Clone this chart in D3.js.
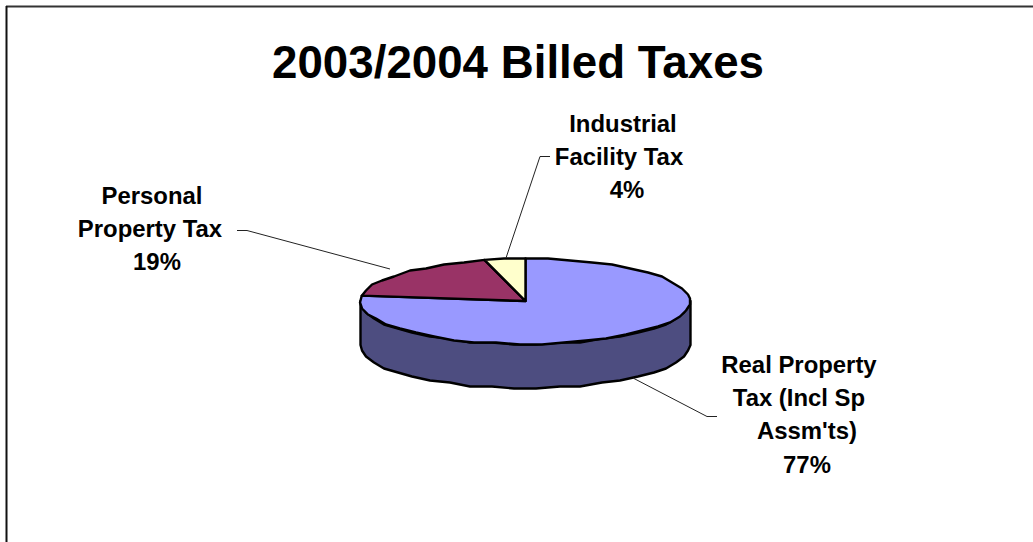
<!DOCTYPE html>
<html>
<head>
<meta charset="utf-8">
<script src="https://cdn.jsdelivr.net/npm/d3@7"></script>
<style>
  html, body { margin: 0; padding: 0; background: #fff; }
  svg { display: block; }
  text { font-family: "Liberation Sans", Arial, sans-serif; font-weight: bold; fill: #000; }
</style>
</head>
<body>
<svg id="chart" width="1033" height="542"></svg>
<script>
// Billed tax shares, 2003/2004
const chartTitle = "2003/2004 Billed Taxes";
const categories = ["Real Property Tax (Incl Sp Assm'ts)", "Personal Property Tax", "Industrial Facility Tax"];
const shares = [77, 19, 4];
const topColors = ["#9999ff", "#993366", "#ffffcc"];
const wallColors = ["#4d4d80", "#4d1a33", "#808066"];

const svg = d3.select("#chart");
const W = 1033, H = 542;

// Frame: top and left rules only
svg.append("line").attr("x1", 6).attr("x2", W).attr("y1", 6.5).attr("y2", 6.5)
  .attr("stroke", "#333").attr("stroke-width", 2);
svg.append("line").attr("x1", 6.5).attr("x2", 6.5).attr("y1", 6).attr("y2", H)
  .attr("stroke", "#111").attr("stroke-width", 2);

svg.append("text").attr("x", 518).attr("y", 77.5).attr("text-anchor", "middle")
  .attr("font-size", 45.7).text(chartTitle);

// Tilted disc: unit circle coordinates mapped through two linear scales
const sx = d3.scaleLinear().domain([-1, 1]).range([360.5, 690.5]);
const sy = d3.scaleLinear().domain([-1, 1]).range([258.5, 343.5]);
const depth = 44;

const pie = d3.pie().sort(null).value(d => d);
const arcs = pie(shares);

// The outline is a coarse, snapped polyline, which gives the disc its stepped rim
const snap = (v, g) => Math.round(v / g) * g;
function rim(a0, a1) {
  const step = 0.14, pts = [];
  const n = Math.max(1, Math.ceil((a1 - a0) / step));
  for (let i = 0; i <= n; i++) {
    const a = a0 + (a1 - a0) * i / n;
    const end = i === 0 || i === n;
    const x = sx(Math.sin(a)), y = sy(-Math.cos(a));
    pts.push(end ? [x, y] : [snap(x, 2), snap(y, 2) + 0.5]);
  }
  return pts;
}
const line = d3.line();

// Wall of the disc: the visible lower half of the rim, pushed down by the depth
const front = rim(Math.PI / 2, Math.PI * 1.5);
const wall = front.concat(front.slice().reverse().map(p => [p[0], p[1] + depth]));
svg.append("path").attr("d", line(wall) + "Z")
  .attr("fill", wallColors[0]).attr("stroke", "#000").attr("stroke-width", 2.4)
  .attr("stroke-linejoin", "round");

// Top faces of the slices
const centre = [sx(0), sy(0)];
svg.selectAll("path.slice").data(arcs).join("path")
  .attr("class", "slice")
  .attr("d", d => line([centre, ...rim(d.startAngle, d.endAngle)]) + "Z")
  .attr("fill", (d, i) => topColors[i])
  .attr("stroke", "#000").attr("stroke-width", 2.4)
  .attr("stroke-linejoin", "round");

// Leader lines from each label to its slice
const leaderStyle = (sel) => sel.attr("fill", "none").attr("stroke", "#222").attr("stroke-width", 1);
[
  [[717, 416.5], [707, 416.5], [633, 378]],
  [[237, 230.5], [247, 230.5], [390, 269]],
  [[550, 156.5], [540, 156.5], [506, 258]]
].forEach(p => svg.append("path").attr("d", line(p)).call(leaderStyle));

// Data labels: wrapped category text plus the percentage
const wrapped = [
  ["Real Property", "Tax (Incl Sp", " Assm'ts)"],
  ["Personal", "Property Tax"],
  ["Industrial", "Facility Tax"]
];
const labelX = [[799, 799, 807, 807], [152, 150, 157], [623, 619, 627]];
const labelY = [373, 204, 132];
const labelStep = 33.2;
wrapped.forEach((lines, i) => {
  lines.concat(shares[i] + "%").forEach((t, j) => {
    svg.append("text").attr("x", labelX[i][j]).attr("y", labelY[i] + j * labelStep)
      .attr("text-anchor", "middle").attr("font-size", 23.9).text(t.trim());
  });
});
</script>
</body>
</html>
